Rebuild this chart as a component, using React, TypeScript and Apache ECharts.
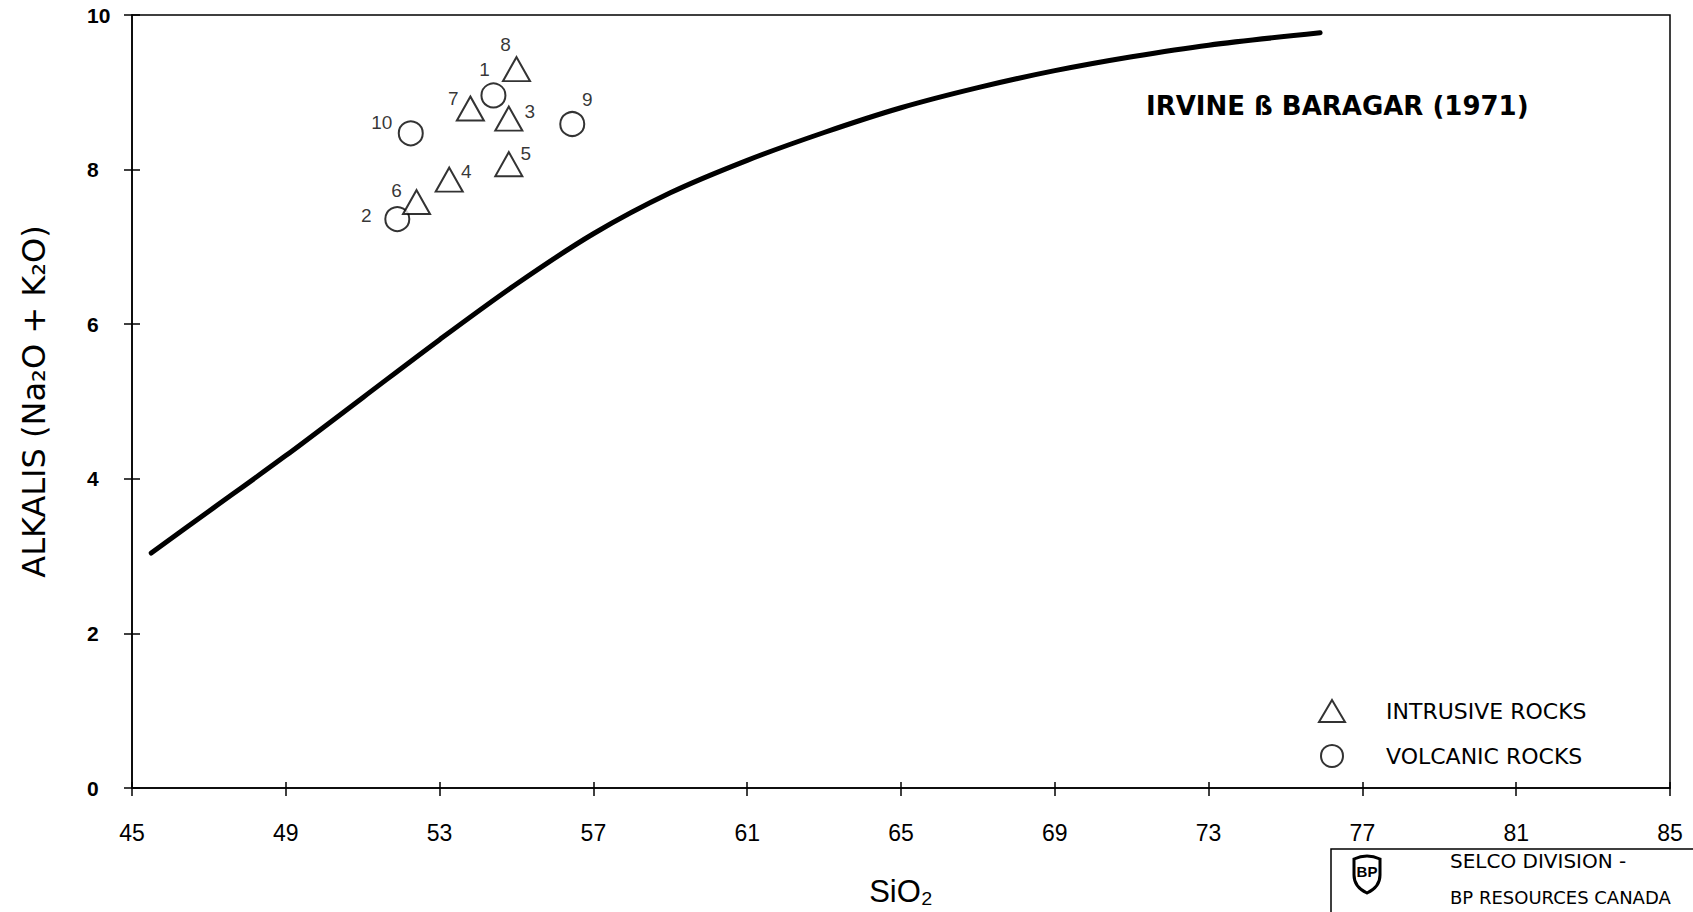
import React, { useEffect, useRef } from "react";
import * as echarts from "echarts";

// ---- data ----
const intrusiveIds = ["8", "7", "3", "5", "4", "6"];
const intrusiveSiO2 = [55.0, 53.8, 54.8, 54.8, 53.25, 52.4];
const intrusiveAlkalis = [9.3, 8.79, 8.66, 8.07, 7.87, 7.58];

const volcanicIds = ["1", "9", "10", "2"];
const volcanicSiO2 = [54.4, 56.45, 52.25, 51.9];
const volcanicAlkalis = [8.96, 8.59, 8.47, 7.36];

// Irvine & Baragar (1971) alkaline / subalkaline divide
const boundarySiO2 = [45.5, 47, 49, 51, 53, 55, 57, 59, 61, 63, 65, 67, 69, 71, 73, 75.9];
const boundaryAlkalis = [3.04, 3.58, 4.3, 5.05, 5.8, 6.52, 7.17, 7.7, 8.12, 8.48, 8.8, 9.06, 9.28, 9.46, 9.61, 9.77];

const xTicks = { min: 45, max: 85, interval: 4 };
const yTicks = { min: 0, max: 10, interval: 2 };

// ---- layout (label placement around each marker, in px) ----
const labelOffsets: Record<string, [number, number]> = {
  "8": [-11, -25],
  "1": [-9, -26],
  "7": [-17, -10],
  "3": [21, -7],
  "9": [15, -24],
  "10": [-29, -11],
  "5": [17, -11],
  "4": [17, -8],
  "6": [-20, -12],
  "2": [-31, -4],
};

const FONT = "Liberation Sans, Arial, sans-serif";
const WIDE = "DejaVu Sans, Liberation Sans, sans-serif";

let shieldRegistered = false;
function registerShield() {
  if (shieldRegistered) return;
  const d = "M2 4 Q15 -2 28 4 L28 20 Q28 32 15 38 Q2 32 2 20 Z";
  echarts.graphic.registerShape("logo", echarts.graphic.extendPath(d, {}));
  shieldRegistered = true;
}

function buildPoints(ids: string[], xs: number[], ys: number[]) {
  return ids.map((id, i) => ({
    name: id,
    value: [xs[i], ys[i]],
    label: { offset: labelOffsets[id] || [0, -20] },
  }));
}

export default function App() {
  const ref = useRef<HTMLDivElement>(null);

  useEffect(() => {
    if (!ref.current) return;
    registerShield();
    const chart = echarts.init(ref.current, null, { renderer: "svg" });

    const markerStyle = { color: "#fff", borderColor: "#000", borderWidth: 2 };
    const pointLabel = {
      show: true,
      position: "inside",
      formatter: "{b}",
      color: "#000",
      fontSize: 19,
      fontFamily: FONT,
    };

    const axisLineStyle = { color: "#000", width: 1.5 };

    chart.setOption({
      animation: false,
      backgroundColor: "#fff",
      grid: {
        left: 132,
        right: 23,
        top: 15,
        bottom: 115,
        show: true,
        borderColor: "#000",
        borderWidth: 1.5,
        backgroundColor: "transparent",
      },
      title: {
        text: "IRVINE ß BARAGAR (1971)",
        left: 1146,
        top: 93,
        padding: 0,
        textStyle: { fontSize: 26, fontWeight: "bold", color: "#000", fontFamily: WIDE },
      },
      legend: {
        data: ["INTRUSIVE ROCKS", "VOLCANIC ROCKS"],
        orient: "vertical",
        left: 1318,
        top: 699,
        itemWidth: 26,
        itemHeight: 22,
        itemGap: 21,
        padding: 0,
        textStyle: { fontSize: 22, color: "#000", fontFamily: WIDE, padding: [0, 0, 0, 36] },
      },
      xAxis: [
        {
          type: "value",
          ...xTicks,
          position: "bottom",
          axisLine: { show: true, onZero: false, lineStyle: axisLineStyle },
          axisTick: { show: true, length: 8, lineStyle: axisLineStyle },
          axisLabel: { margin: 33, fontSize: 23, color: "#000", fontFamily: FONT },
          splitLine: { show: false },
          name: "SiO₂",
          nameLocation: "middle",
          nameGap: 88,
          nameTextStyle: { fontSize: 31, color: "#000", fontFamily: FONT },
        },
        {
          type: "value",
          ...xTicks,
          position: "bottom",
          axisLine: { show: false },
          axisTick: { show: true, inside: true, length: 6, lineStyle: axisLineStyle },
          axisLabel: { show: false },
          splitLine: { show: false },
        },
      ],
      yAxis: [
        {
          type: "value",
          ...yTicks,
          position: "left",
          axisLine: { show: true, onZero: false, lineStyle: axisLineStyle },
          axisTick: { show: true, length: 8, lineStyle: axisLineStyle },
          axisLabel: {
            margin: 45,
            align: "left",
            fontSize: 21,
            fontWeight: "bold",
            color: "#000",
            fontFamily: FONT,
          },
          splitLine: { show: false },
          name: "ALKALIS (Na₂O + K₂O)",
          nameLocation: "middle",
          nameRotate: 90,
          nameGap: 82,
          nameTextStyle: { fontSize: 32, color: "#000", fontFamily: WIDE },
        },
        {
          type: "value",
          ...yTicks,
          position: "left",
          axisLine: { show: false },
          axisTick: { show: true, inside: true, length: 8, lineStyle: axisLineStyle },
          axisLabel: { show: false },
          splitLine: { show: false },
        },
      ],
      series: [
        {
          name: "Irvine & Baragar divide",
          type: "line",
          data: boundarySiO2.map((x, i) => [x, boundaryAlkalis[i]]),
          smooth: 0.3,
          symbol: "none",
          lineStyle: { color: "#000", width: 5, cap: "round" },
          z: 1,
          silent: true,
        },
        {
          name: "INTRUSIVE ROCKS",
          type: "scatter",
          symbol: "triangle",
          symbolSize: [27, 24],
          itemStyle: markerStyle,
          label: pointLabel,
          data: buildPoints(intrusiveIds, intrusiveSiO2, intrusiveAlkalis),
          z: 3,
        },
        {
          name: "VOLCANIC ROCKS",
          type: "scatter",
          symbol: "circle",
          symbolSize: 24,
          itemStyle: markerStyle,
          label: pointLabel,
          data: buildPoints(volcanicIds, volcanicSiO2, volcanicAlkalis),
          z: 2,
        },
      ],
      graphic: [
        {
          type: "rect",
          shape: { x: 1331, y: 849, width: 420, height: 120 },
          style: { fill: "none", stroke: "#000", lineWidth: 1.5 },
        },
        {
          type: "logo",
          x: 1352,
          y: 855,
          scaleX: 1,
          scaleY: 1,
          style: { fill: "#fff", stroke: "#000", lineWidth: 3 },
        },
        {
          type: "text",
          x: 1367,
          y: 871,
          style: {
            text: "BP",
            fill: "#000",
            fontSize: 15,
            fontWeight: "bold",
            fontFamily: FONT,
            align: "center",
            verticalAlign: "middle",
          },
        },
        {
          type: "text",
          x: 1450,
          y: 861,
          style: {
            text: "SELCO DIVISION -",
            fill: "#000",
            fontSize: 20,
            fontFamily: WIDE,
            verticalAlign: "middle",
          },
        },
        {
          type: "text",
          x: 1450,
          y: 897,
          style: {
            text: "BP RESOURCES CANADA",
            fill: "#000",
            fontSize: 18,
            fontFamily: WIDE,
            verticalAlign: "middle",
          },
        },
      ],
    });

    return () => chart.dispose();
  }, []);

  return (
    <div
      ref={ref}
      style={{ position: "fixed", left: 0, top: 0, width: 1693, height: 912, background: "#fff" }}
    />
  );
}
